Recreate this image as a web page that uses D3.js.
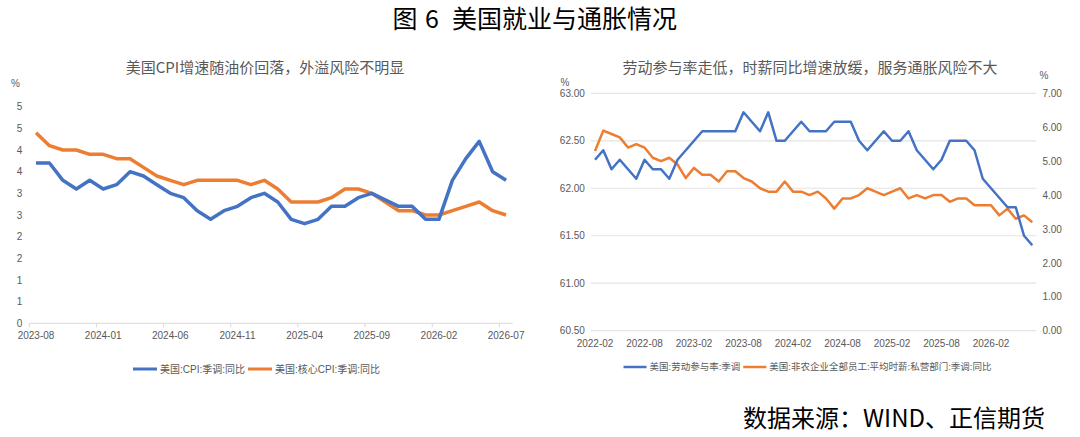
<!DOCTYPE html>
<html>
<head>
<meta charset="utf-8">
<script src="https://cdn.jsdelivr.net/npm/d3@7"></script>
<style>
  body { margin: 0; background: #fff; }
  svg { display: block; font-family: "Liberation Sans", "Noto Sans CJK SC", sans-serif; }
</style>
</head>
<body>
<div id="chart"></div>
<script>
// ---- left panel data: US CPI yoy (%) ----
const cpiMonths = [
  '2023-08', '2023-09', '2023-10', '2023-11', '2023-12', '2024-01', '2024-02', '2024-03', '2024-04',
  '2024-05', '2024-06', '2024-07', '2024-08', '2024-09', '2024-10', '2024-11', '2024-12', '2025-01',
  '2025-02', '2025-03', '2025-04', '2025-05', '2025-06', '2025-07', '2025-08', '2025-09', '2025-10',
  '2025-11', '2025-12', '2026-01', '2026-02', '2026-03', '2026-04', '2026-05', '2026-06', '2026-07',
];
const cpiYoy = [
  3.7, 3.7, 3.3, 3.1, 3.3, 3.1, 3.2, 3.5, 3.4, 3.2, 3.0, 2.9, 2.6, 2.4, 2.6, 2.7, 2.9, 3.0,
  2.8, 2.4, 2.3, 2.4, 2.7, 2.7, 2.9, 3.0, 2.85, 2.7, 2.7, 2.4, 2.4, 3.3, 3.8, 4.2, 3.5, 3.3,
];
const coreCpiYoy = [
  4.4, 4.1, 4.0, 4.0, 3.9, 3.9, 3.8, 3.8, 3.6, 3.4, 3.3, 3.2, 3.3, 3.3, 3.3, 3.3, 3.2, 3.3,
  3.1, 2.8, 2.8, 2.8, 2.9, 3.1, 3.1, 3.0, 2.8, 2.6, 2.6, 2.5, 2.5, 2.6, 2.7, 2.8, 2.6, 2.5,
];
const cpiXTicks = ['2023-08', '2024-01', '2024-06', '2024-11', '2025-04', '2025-09', '2026-02', '2026-07'];
const cpiYTicks = [0, 0.5, 1, 1.5, 2, 2.5, 3, 3.5, 4, 4.5, 5];
const cpiYTickLabels = ['0', '1', '1', '2', '2', '3', '3', '4', '4', '5', '5'];

// ---- right panel data: participation rate (%) and hourly earnings yoy (%) ----
const labMonths = [
  '2022-02', '2022-03', '2022-04', '2022-05', '2022-06', '2022-07', '2022-08', '2022-09', '2022-10',
  '2022-11', '2022-12', '2023-01', '2023-02', '2023-03', '2023-04', '2023-05', '2023-06', '2023-07',
  '2023-08', '2023-09', '2023-10', '2023-11', '2023-12', '2024-01', '2024-02', '2024-03', '2024-04',
  '2024-05', '2024-06', '2024-07', '2024-08', '2024-09', '2024-10', '2024-11', '2024-12', '2025-01',
  '2025-02', '2025-03', '2025-04', '2025-05', '2025-06', '2025-07', '2025-08', '2025-09', '2025-10',
  '2025-11', '2025-12', '2026-01', '2026-02', '2026-03', '2026-04', '2026-05', '2026-06', '2026-07',
];
const partRate = [
  62.3, 62.4, 62.2, 62.3, 62.2, 62.1, 62.3, 62.2, 62.2, 62.1, 62.3, 62.4, 62.5, 62.6, 62.6, 62.6, 62.6, 62.6,
  62.8, 62.7, 62.6, 62.8, 62.5, 62.5, 62.6, 62.7, 62.6, 62.6, 62.6, 62.7, 62.7, 62.7, 62.5, 62.4, 62.5, 62.6,
  62.5, 62.5, 62.6, 62.4, 62.3, 62.2, 62.3, 62.5, 62.5, 62.5, 62.4, 62.1, 62.0, 61.9, 61.8, 61.8, 61.5, 61.4,
];
const wageYoy = [
  5.3, 5.9, 5.8, 5.7, 5.4, 5.5, 5.4, 5.1, 5.0, 5.1, 4.9, 4.5, 4.8, 4.6, 4.6, 4.4, 4.7, 4.7,
  4.5, 4.4, 4.2, 4.1, 4.1, 4.4, 4.1, 4.1, 4.0, 4.1, 3.9, 3.6, 3.9, 3.9, 4.0, 4.2, 4.1, 4.0,
  4.1, 4.2, 3.9, 4.0, 3.9, 4.0, 4.0, 3.8, 3.9, 3.9, 3.7, 3.7, 3.7, 3.4, 3.6, 3.3, 3.4, 3.2,
];
const labXTicks = ['2022-02', '2022-08', '2023-02', '2023-08', '2024-02', '2024-08', '2025-02', '2025-08', '2026-02'];
const partYTicks = [60.5, 61, 61.5, 62, 62.5, 63];
const wageYTicks = [0, 1, 2, 3, 4, 5, 6, 7];

const blue = '#4472c4';
const orange = '#ed7d31';
const grey = '#595959';
const cjk = '"Noto Sans CJK SC", sans-serif';

const width = 1080;
const height = 437;

const svg = d3
  .select('#chart')
  .append('svg')
  .attr('width', width)
  .attr('height', height)
  .attr('viewBox', [0, 0, width, height]);

// main title, in three pieces to keep the wide gaps
[
  { x: 392.5, t: '图' },
  { x: 425, t: '6' },
  { x: 452, t: '美国就业与通胀情况' },
].forEach((p) => {
  svg
    .append('text')
    .attr('x', p.x)
    .attr('y', 28)
    .style('font-family', cjk)
    .style('font-size', '25px')
    .attr('fill', '#000')
    .text(p.t);
});

svg
  .append('text')
  .attr('x', 1045)
  .attr('y', 427)
  .attr('text-anchor', 'end')
  .style('font-family', cjk)
  .style('font-size', '24px')
  .attr('fill', '#000')
  .text('数据来源：WIND、正信期货');

function panelTitle(x, label) {
  svg
    .append('text')
    .attr('x', x)
    .attr('y', 72.5)
    .attr('text-anchor', 'middle')
    .style('font-family', cjk)
    .style('font-size', '15px')
    .attr('fill', grey)
    .text(label);
}
panelTitle(265, '美国CPI增速随油价回落，外溢风险不明显');
panelTitle(810, '劳动参与率走低，时薪同比增速放缓，服务通胀风险不大');

function styleAxis(g, size) {
  g.select('.domain').remove();
  g.selectAll('.tick line').remove();
  g.selectAll('text').attr('fill', grey).style('font-size', size);
}

// legend helper: items laid out around a centre x
function legend(cx, y, items, fontSize, lineLen, lineW) {
  const g = svg.append('g');
  let x = 0;
  items.forEach((it) => {
    g.append('line')
      .attr('x1', x).attr('x2', x + lineLen)
      .attr('y1', y).attr('y2', y)
      .attr('stroke', it.color)
      .attr('stroke-width', lineW);
    x += lineLen + 3;
    const t = g.append('text')
      .attr('x', x)
      .attr('y', y + fontSize * 0.36)
      .attr('fill', grey)
      .style('font-size', `${fontSize}px`)
      .text(it.label);
    x += t.node().getComputedTextLength() + 3;
  });
  g.attr('transform', `translate(${cx - (x - 3) / 2},0)`);
}

// ---------------- left panel ----------------
const xL = d3.scaleBand().domain(cpiMonths).range([29.3, 512.8]).padding(0);
const yL = d3.scaleLinear().domain([0, 5]).range([323.3, 106.7]);
const cxL = (m) => xL(m) + xL.bandwidth() / 2;

// baseline
svg
  .append('line')
  .attr('x1', xL.range()[0])
  .attr('x2', xL.range()[1])
  .attr('y1', yL(0))
  .attr('y2', yL(0))
  .attr('stroke', '#d9d9d9')
  .attr('stroke-width', 1);

// tick marks on category boundaries
svg
  .append('g')
  .selectAll('line')
  .data(cpiXTicks)
  .join('line')
  .attr('x1', (d) => xL(d))
  .attr('x2', (d) => xL(d))
  .attr('y1', yL(0))
  .attr('y2', yL(0) + 4)
  .attr('stroke', '#d9d9d9');

svg
  .append('g')
  .attr('transform', `translate(0,${yL(0)})`)
  .call(d3.axisBottom(xL).tickValues(cpiXTicks).tickSize(0).tickPadding(9))
  .call((g) => styleAxis(g, '10px'));

svg
  .append('g')
  .attr('transform', `translate(${xL.range()[0]},0)`)
  .call(
    d3.axisLeft(yL)
      .tickValues(cpiYTicks)
      .tickSize(0)
      .tickPadding(7)
      .tickFormat((d, i) => cpiYTickLabels[i]),
  )
  .call((g) => styleAxis(g, '10px'));

svg.append('text').attr('x', 15.5).attr('y', 87).attr('fill', grey).style('font-size', '10px').attr('text-anchor', 'middle').text('%');

const lineL = (vals) => d3.line().x((d, i) => cxL(cpiMonths[i])).y((d) => yL(d))(vals);

svg.append('path').attr('d', lineL(coreCpiYoy)).attr('fill', 'none').attr('stroke', orange)
  .attr('stroke-width', 3.5).attr('stroke-linejoin', 'round');
svg.append('path').attr('d', lineL(cpiYoy)).attr('fill', 'none').attr('stroke', blue)
  .attr('stroke-width', 3.5).attr('stroke-linejoin', 'round');

legend(256.5, 369, [
  { label: '美国:CPI:季调:同比', color: blue },
  { label: '美国:核心CPI:季调:同比', color: orange },
], 10, 24, 3);

// ---------------- right panel ----------------
const xR = d3.scaleBand().domain(labMonths).range([590.9, 1036.4]).padding(0);
const yP = d3.scaleLinear().domain([60.5, 63]).range([330.7, 93.3]);
const yW = d3.scaleLinear().domain([0, 7]).range([330.7, 93.3]);
const cxR = (m) => xR(m) + xR.bandwidth() / 2;

// gridlines
svg
  .append('g')
  .selectAll('line')
  .data(partYTicks)
  .join('line')
  .attr('x1', xR.range()[0])
  .attr('x2', xR.range()[1])
  .attr('y1', (d) => yP(d))
  .attr('y2', (d) => yP(d))
  .attr('stroke', '#e3e3e3')
  .attr('stroke-width', 1.2);

svg
  .append('g')
  .attr('transform', `translate(0,${yP(60.5)})`)
  .call(d3.axisBottom(xR).tickValues(labXTicks).tickSize(0).tickPadding(9))
  .call((g) => styleAxis(g, '10px'));

svg
  .append('g')
  .attr('transform', `translate(${xR.range()[0]},0)`)
  .call(d3.axisLeft(yP).tickValues(partYTicks).tickSize(0).tickPadding(6).tickFormat(d3.format('.2f')))
  .call((g) => styleAxis(g, '10px'));

svg
  .append('g')
  .attr('transform', `translate(${xR.range()[1]},0)`)
  .call(d3.axisRight(yW).tickValues(wageYTicks).tickSize(0).tickPadding(6).tickFormat(d3.format('.2f')))
  .call((g) => styleAxis(g, '10px'));

svg.append('text').attr('x', 565).attr('y', 86).attr('fill', grey).style('font-size', '10px').attr('text-anchor', 'middle').text('%');
svg.append('text').attr('x', 1044).attr('y', 78.5).attr('fill', grey).style('font-size', '10px').attr('text-anchor', 'middle').text('%');

const lineP = d3.line().x((d, i) => cxR(labMonths[i])).y((d) => yP(d));
const lineW = d3.line().x((d, i) => cxR(labMonths[i])).y((d) => yW(d));

svg.append('path').attr('d', lineW(wageYoy)).attr('fill', 'none').attr('stroke', orange)
  .attr('stroke-width', 2.5).attr('stroke-linejoin', 'round');
svg.append('path').attr('d', lineP(partRate)).attr('fill', 'none').attr('stroke', blue)
  .attr('stroke-width', 2.5).attr('stroke-linejoin', 'round');

legend(807.5, 367, [
  { label: '美国:劳动参与率:季调', color: blue },
  { label: '美国:非农企业全部员工:平均时薪:私营部门:季调:同比', color: orange },
], 9.5, 23, 2.5);
</script>
</body>
</html>
